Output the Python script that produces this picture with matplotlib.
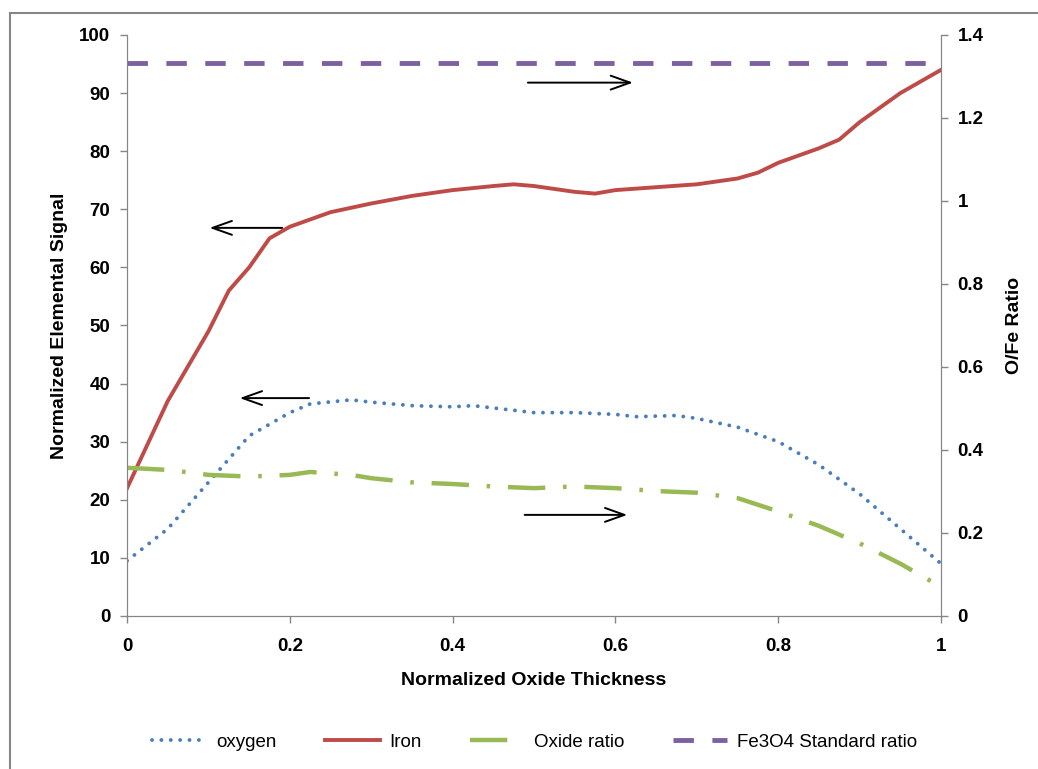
import matplotlib.pyplot as plt
from matplotlib.lines import Line2D

# values
x_iron = [0, 0.05, 0.1, 0.125, 0.15, 0.175, 0.2, 0.25, 0.3, 0.35, 0.4, 0.45, 0.475,
          0.5, 0.55, 0.575, 0.6, 0.65, 0.7, 0.75, 0.775, 0.8, 0.85, 0.875, 0.9, 0.95, 1.0]
iron = [22, 37, 49, 56, 60, 65, 67, 69.5, 71, 72.3, 73.3, 74, 74.3,
        74, 73, 72.7, 73.3, 73.8, 74.3, 75.3, 76.3, 78, 80.5, 82, 85, 90, 94]

x_oxy = [0, 0.05, 0.1, 0.15, 0.2, 0.225, 0.275, 0.3, 0.35, 0.4, 0.425, 0.45, 0.5,
         0.55, 0.6, 0.625, 0.675, 0.7, 0.75, 0.8, 0.85, 0.9, 0.95, 1.0]
oxygen = [9.5, 15, 23, 31, 35, 36.5, 37.2, 36.8, 36.2, 36, 36.2, 35.8, 35,
          35, 34.7, 34.3, 34.5, 34, 32.5, 30, 26, 21, 15, 9]

x_ratio = [0, 0.05, 0.1, 0.15, 0.2, 0.225, 0.275, 0.3, 0.35, 0.4, 0.45, 0.5,
           0.55, 0.6, 0.65, 0.7, 0.75, 0.8, 0.85, 0.9, 0.95, 1.0]
oxide_ratio = [0.357, 0.352, 0.340, 0.336, 0.340, 0.347, 0.340, 0.332, 0.322, 0.318,
               0.312, 0.308, 0.312, 0.308, 0.301, 0.297, 0.284, 0.252, 0.217, 0.175,
               0.126, 0.070]

x_std = [0, 1]
std_ratio = [4 / 3, 4 / 3]

plt.rcParams['font.family'] = ['Liberation Sans', 'DejaVu Sans']

fig = plt.figure(figsize=(10.38, 7.69), dpi=100)
ax = fig.add_axes([0.1224, 0.199, 0.7842, 0.7555])
ax2 = ax.twinx()

grey = '#868686'
l1, = ax.plot(x_oxy, oxygen, color='#4a7ebb', lw=2.8, ls=(0, (0.01, 2.4)),
              dash_capstyle='round', label='oxygen')
l2, = ax.plot(x_iron, iron, color='#be4b48', lw=2.8, label='Iron')
l3, = ax2.plot(x_ratio, oxide_ratio, color='#98b954', lw=3.2,
               ls=(0, (8.4, 4, 0.8, 4)), label='Oxide ratio')
l4, = ax2.plot(x_std, std_ratio, color='#7d60a0', lw=3.5, ls=(0, (4.2, 3.8)),
               label='Fe3O4 Standard ratio')

ax.set_xlim(0, 1)
ax.set_ylim(0, 100)
ax2.set_ylim(0, 1.4)
ax.set_xticks([0, 0.2, 0.4, 0.6, 0.8, 1])
ax.set_xticklabels(['0', '0.2', '0.4', '0.6', '0.8', '1'])
ax.set_yticks(range(0, 101, 10))
ax2.set_yticks([0, 0.2, 0.4, 0.6, 0.8, 1.0, 1.2, 1.4])
ax2.set_yticklabels(['0', '0.2', '0.4', '0.6', '0.8', '1', '1.2', '1.4'])

for a in (ax, ax2):
    a.spines['top'].set_visible(False)
    for s in ('left', 'right', 'bottom'):
        a.spines[s].set_color(grey)
    a.tick_params(colors=grey, labelcolor='black', length=5, width=1,
                  labelsize=13.5, pad=7)
    for t in a.get_xticklabels() + a.get_yticklabels():
        t.set_fontweight('bold')
ax.tick_params(axis='x', pad=11)

ax.set_xlabel('Normalized Oxide Thickness', fontsize=14, fontweight='bold', labelpad=12)
ax.set_ylabel('Normalized Elemental Signal', fontsize=14, fontweight='bold', labelpad=8)
ax2.set_ylabel('O/Fe Ratio', fontsize=14, fontweight='bold', labelpad=16)

arrow = dict(arrowstyle='->,head_length=1.4,head_width=0.5', color='black', lw=1.4)
ax.annotate('', xy=(0.625, 91.8), xytext=(0.489, 91.8), arrowprops=arrow)
ax.annotate('', xy=(0.098, 66.8), xytext=(0.194, 66.8), arrowprops=arrow)
ax.annotate('', xy=(0.135, 37.5), xytext=(0.227, 37.5), arrowprops=arrow)
ax.annotate('', xy=(0.618, 17.4), xytext=(0.485, 17.4), arrowprops=arrow)

fig.legend(handles=[l1, l2, l3, l4], loc='center', bbox_to_anchor=(0.515, 0.035),
           ncol=4, frameon=False, fontsize=13.5, handlelength=2.9,
           columnspacing=2.6, handletextpad=0.5)

fig.add_artist(Line2D([10 / 1038, 10 / 1038], [0, 1 - 13 / 769], color=grey, lw=1.5))
fig.add_artist(Line2D([10 / 1038, 1], [1 - 13 / 769, 1 - 13 / 769], color=grey, lw=1.5))

fig.savefig('out.png', dpi=100)
